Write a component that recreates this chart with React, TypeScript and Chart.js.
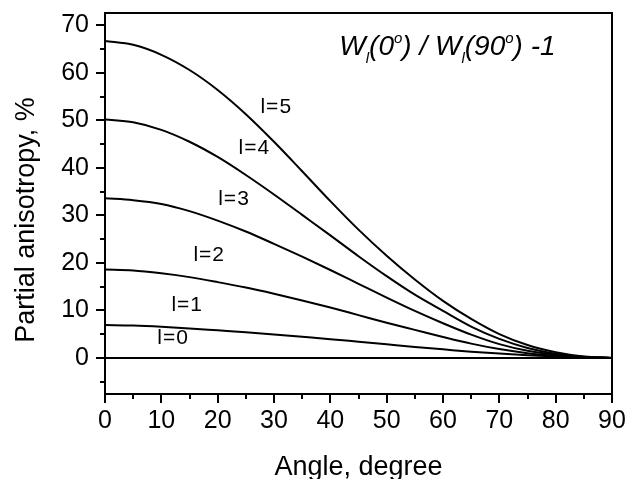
import React, { useEffect, useRef } from "react";
import { Chart, registerables } from "chart.js";

Chart.register(...registerables);

// Angle (degrees) sampled every 5°
const angles = [0, 5, 10, 15, 20, 25, 30, 35, 40, 45, 50, 55, 60, 65, 70, 75, 80, 85, 90];

// Partial anisotropy (%)
const l0 = [0, 0, 0, 0, 0, 0, 0, 0, 0, 0, 0, 0, 0, 0, 0, 0, 0, 0, 0];
const l1 = [6.9, 6.8, 6.55, 6.2, 5.8, 5.4, 4.95, 4.45, 3.95, 3.4, 2.85, 2.3, 1.8, 1.3, 0.9, 0.55, 0.27, 0.08, 0];
const l2 = [18.6, 18.4, 17.8, 17.0, 15.95, 14.8, 13.5, 12.1, 10.6, 9.0, 7.4, 5.9, 4.4, 3.0, 1.85, 1.0, 0.45, 0.12, 0];
const l3 = [33.6, 33.2, 32.4, 30.9, 28.9, 26.6, 24.0, 21.3, 18.5, 15.6, 12.7, 9.9, 7.3, 4.9, 2.9, 1.5, 0.65, 0.15, 0];
const l4 = [50.2, 49.6, 48.0, 45.5, 42.3, 38.5, 34.4, 30.1, 25.8, 21.4, 17.2, 13.3, 9.9, 6.6, 4.0, 2.1, 0.9, 0.25, 0];
const l5 = [66.7, 65.9, 63.8, 60.6, 56.4, 51.3, 45.5, 39.3, 33.0, 27.0, 21.5, 16.5, 12.0, 8.2, 5.0, 2.7, 1.2, 0.3, 0];

const seriesNames = ["l=0", "l=1", "l=2", "l=3", "l=4", "l=5"];
const seriesValues = [l0, l1, l2, l3, l4, l5];

// Curve labels: text and anchor in data units (angle, %)
const labelTexts = ["l=0", "l=1", "l=2", "l=3", "l=4", "l=5"];
const labelAngles = [12.1, 14.6, 18.5, 22.9, 26.5, 30.4];
const labelValues = [4.1, 11.1, 21.6, 33.4, 44.2, 52.8];

// Axis ticks
const xMajorTicks = [0, 10, 20, 30, 40, 50, 60, 70, 80, 90];
const xMinorTicks = [5, 15, 25, 35, 45, 55, 65, 75, 85];
const yMajorTicks = [0, 10, 20, 30, 40, 50, 60, 70];
const yMinorTicks = [-5, 5, 15, 25, 35, 45, 55, 65];

const xTitle = "Angle, degree";
const yTitle = "Partial anisotropy, %";

const FONT = "'Liberation Sans', Arial, sans-serif";

const overlayPlugin = {
  id: "overlay",
  afterDraw(chart: any) {
    const { ctx, chartArea } = chart;
    const xs = chart.scales.x;
    const ys = chart.scales.y;
    ctx.save();
    ctx.strokeStyle = "#000";
    ctx.fillStyle = "#000";
    // frame
    ctx.lineWidth = 2;
    ctx.strokeRect(chartArea.left, chartArea.top, chartArea.right - chartArea.left, chartArea.bottom - chartArea.top);
    // ticks
    ctx.lineWidth = 2;
    ctx.beginPath();
    xMajorTicks.forEach((v) => {
      const px = Math.round(xs.getPixelForValue(v));
      ctx.moveTo(px, chartArea.bottom);
      ctx.lineTo(px, chartArea.bottom + 9);
    });
    xMinorTicks.forEach((v) => {
      const px = Math.round(xs.getPixelForValue(v));
      ctx.moveTo(px, chartArea.bottom);
      ctx.lineTo(px, chartArea.bottom + 5);
    });
    yMajorTicks.forEach((v) => {
      const py = Math.round(ys.getPixelForValue(v));
      ctx.moveTo(chartArea.left, py);
      ctx.lineTo(chartArea.left - 9, py);
    });
    yMinorTicks.forEach((v) => {
      const py = Math.round(ys.getPixelForValue(v));
      ctx.moveTo(chartArea.left, py);
      ctx.lineTo(chartArea.left - 5, py);
    });
    ctx.stroke();

    // curve labels
    ctx.font = `21px ${FONT}`;
    (ctx as any).letterSpacing = "1px";
    ctx.textAlign = "center";
    ctx.textBaseline = "middle";
    labelTexts.forEach((t, i) => {
      ctx.fillText(t, xs.getPixelForValue(labelAngles[i]), ys.getPixelForValue(labelValues[i]));
    });
    (ctx as any).letterSpacing = "0px";

    // formula title
    const big = `italic 28px ${FONT}`;
    const small = `italic 15px ${FONT}`;
    const parts: [string, string, number][] = [
      ["W", big, 0],
      ["l", small, 8],
      ["(0", big, 0],
      ["o", small, -12],
      [") / W", big, 0],
      ["l", small, 8],
      ["(90", big, 0],
      ["o", small, -12],
      [") -1", big, 0],
    ];
    let cx = xs.getPixelForValue(41.6);
    const baseY = ys.getPixelForValue(63.7);
    ctx.textAlign = "left";
    ctx.textBaseline = "alphabetic";
    parts.forEach(([t, f, dy]) => {
      ctx.font = f;
      ctx.fillText(t, cx, baseY + dy);
      cx += ctx.measureText(t).width;
    });

    // axis titles
    ctx.font = `27px ${FONT}`;
    ctx.textAlign = "center";
    ctx.textBaseline = "alphabetic";
    ctx.fillText(xTitle, (chartArea.left + chartArea.right) / 2, 475);
    ctx.save();
    ctx.translate(34, 220);
    ctx.rotate(-Math.PI / 2);
    ctx.fillText(yTitle, 0, 0);
    ctx.restore();

    ctx.restore();
  },
};

export default function App() {
  const ref = useRef<HTMLCanvasElement | null>(null);
  useEffect(() => {
    document.body.style.margin = "0";
    const canvas = ref.current!;
    const chart = new Chart(canvas, {
      type: "line",
      data: {
        datasets: seriesValues.map((vals, i) => ({
          label: seriesNames[i],
          data: angles.map((a, j) => ({ x: a, y: vals[j] })),
          borderColor: "#000",
          borderWidth: 2,
          pointRadius: 0,
          fill: false,
          cubicInterpolationMode: "monotone" as const,
        })),
      },
      options: {
        responsive: false,
        animation: false,
        devicePixelRatio: 1,
        layout: { padding: { top: 13, right: 15, left: 0, bottom: 0 } },
        plugins: { legend: { display: false }, tooltip: { enabled: false }, title: { display: false } },
        scales: {
          x: {
            type: "linear",
            min: 0,
            max: 90,
            grid: { display: false, drawTicks: false },
            border: { display: false },
            afterBuildTicks: (s: any) => {
              s.ticks = xMajorTicks.map((v) => ({ value: v }));
            },
            afterFit: (s: any) => {
              s.height = 85;
              s.paddingLeft = 0;
              s.paddingRight = 0;
            },
            ticks: { color: "#000", font: { family: FONT, size: 25 }, padding: 12, maxRotation: 0, autoSkip: false },
          },
          y: {
            type: "linear",
            min: -7.6,
            max: 72.6,
            grid: { display: false, drawTicks: false },
            border: { display: false },
            afterBuildTicks: (s: any) => {
              s.ticks = yMajorTicks.map((v) => ({ value: v }));
            },
            afterFit: (s: any) => {
              s.width = 105;
              s.paddingTop = 0;
              s.paddingBottom = 0;
            },
            ticks: { color: "#000", font: { family: FONT, size: 25 }, padding: 16, autoSkip: false },
          },
        },
      },
      plugins: [overlayPlugin],
    });
    return () => chart.destroy();
  }, []);
  return (
    <div style={{ width: 627, height: 479, background: "#fff" }}>
      <canvas ref={ref} width={627} height={479} style={{ display: "block" }} />
    </div>
  );
}
